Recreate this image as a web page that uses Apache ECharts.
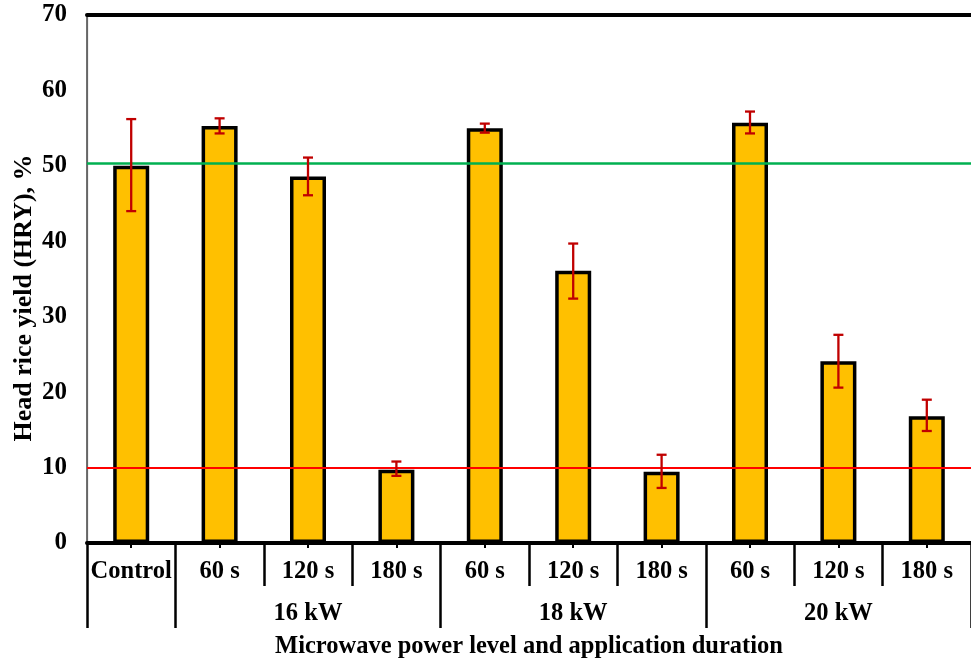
<!DOCTYPE html>
<html>
<head>
<meta charset="utf-8">
<script src="https://cdn.jsdelivr.net/npm/echarts@6/dist/echarts.min.js"></script>
<style>
html,body{margin:0;padding:0;background:#fff;}
#chart{width:971px;height:662px;}
</style>
</head>
<body>
<div id="chart"></div>
<script>
// ---- data ----
const categories = ['Control', '60 s', '120 s', '180 s', '60 s', '120 s', '180 s', '60 s', '120 s', '180 s'];
const groupNames = ['', '16 kW', '18 kW', '20 kW'];
const groupSizes = [1, 3, 3, 3];
const hry = [50.0, 55.3, 48.6, 9.7, 55.0, 36.1, 9.45, 55.7, 24.1, 16.8];
const errLow = [44.0, 54.3, 46.1, 8.9, 54.4, 32.4, 7.3, 54.3, 20.6, 14.85];
const errHigh = [56.2, 56.3, 51.1, 10.8, 55.6, 39.7, 11.7, 57.2, 27.6, 19.0];
const refGreen = 50.3;
const refRed = 10;
const yMin = 0, yMax = 70, yStep = 10;
const xTitle = 'Microwave power level and application duration';
const yTitle = 'Head rice yield (HRY), %';

// group boundaries / centres derived from group sizes
const groupBounds = [0];
groupSizes.forEach(s => groupBounds.push(groupBounds[groupBounds.length - 1] + s));
const groupCentres = groupSizes.map((s, i) => groupBounds[i] + s / 2);
const catBounds = categories.map((c, i) => i).concat([categories.length]);

const FONT = "'Liberation Serif', 'Times New Roman', serif";
const txt = { fontFamily: FONT, fontWeight: 'bold', color: '#000', fontSize: 24.5 };

const errData = categories.map((c, i) => [i, errLow[i], errHigh[i]]);

const chart = echarts.init(document.getElementById('chart'), null, { renderer: 'canvas' });
chart.setOption({
  backgroundColor: '#fff',
  animation: false,
  grid: { left: 87, right: 0, top: 15, bottom: 119, containLabel: false, outerBoundsMode: 'none' },
  xAxis: [
    {
      type: 'category', data: categories, position: 'bottom',
      axisLine: { show: true, lineStyle: { color: '#000', width: 4 } },
      axisTick: { show: true, alignWithLabel: true, length: 5, lineStyle: { color: '#000', width: 2 } },
      axisLabel: Object.assign({ margin: 16, interval: 0 }, txt),
      splitLine: { show: false }
    },
    {
      type: 'value', min: 0, max: categories.length, position: 'bottom',
      axisLine: { show: false },
      axisTick: { show: true, customValues: catBounds, length: 43, lineStyle: { color: '#000', width: 2.5 } },
      axisLabel: { show: false },
      splitLine: { show: false }
    },
    {
      type: 'value', min: 0, max: categories.length, position: 'bottom',
      axisLine: { show: false },
      axisTick: { show: true, customValues: groupBounds, length: 85, lineStyle: { color: '#000', width: 2.5 } },
      axisLabel: Object.assign({
        show: true, customValues: groupCentres, margin: 58,
        formatter: v => { const k = groupCentres.indexOf(v); return k >= 0 ? groupNames[k] : ''; }
      }, txt),
      splitLine: { show: false },
      name: xTitle, nameLocation: 'middle', nameGap: 91,
      nameTextStyle: Object.assign({}, txt, { fontSize: 24.5 })
    },
    {
      type: 'category', data: categories, position: 'top',
      axisLine: { show: true, lineStyle: { color: '#000', width: 4 } },
      axisTick: { show: false }, axisLabel: { show: false }, splitLine: { show: false }
    }
  ],
  yAxis: [
    {
      type: 'value', min: yMin, max: yMax, interval: yStep, position: 'left',
      axisLine: { show: true, lineStyle: { color: '#444', width: 1.5 } },
      axisTick: { show: false },
      axisLabel: Object.assign({ margin: 20 }, txt, { fontSize: 25 }),
      splitLine: { show: false },
      name: yTitle, nameLocation: 'middle', nameGap: 50, nameRotate: 90, nameMoveOverlap: false,
      nameTextStyle: Object.assign({}, txt, { fontSize: 26, padding: [0, 38, 0, 0] })
    },
    {
      type: 'value', min: yMin, max: yMax, interval: yStep, position: 'left', offset: 3,
      axisLine: { show: true, lineStyle: { color: '#666', width: 1.2 } },
      axisTick: { show: false }, axisLabel: { show: false }, splitLine: { show: false }
    }
  ],
  series: [
    {
      type: 'bar', data: hry, xAxisIndex: 0, yAxisIndex: 0,
      barWidth: 36, z: 2,
      itemStyle: { color: '#FFC000', borderColor: '#000', borderWidth: 3.5 },
      markLine: {
        silent: true, symbol: ['none', 'none'], label: { show: false }, z: 5,
        data: [
          { yAxis: refGreen, lineStyle: { color: '#00B050', width: 2.5, type: 'solid' } },
          { yAxis: refRed, lineStyle: { color: '#FF0000', width: 2, type: 'solid' } }
        ]
      }
    },
    {
      type: 'custom', xAxisIndex: 0, yAxisIndex: 0, z: 10,
      data: errData,
      renderItem: function (params, api) {
        const lo = api.coord([api.value(0), api.value(1)]);
        const hi = api.coord([api.value(0), api.value(2)]);
        const hw = 5;
        const st = { stroke: '#C00000', lineWidth: 2.3 };
        return {
          type: 'group',
          children: [
            { type: 'line', shape: { x1: hi[0], y1: hi[1], x2: lo[0], y2: lo[1] }, style: st },
            { type: 'line', shape: { x1: hi[0] - hw, y1: hi[1], x2: hi[0] + hw, y2: hi[1] }, style: st },
            { type: 'line', shape: { x1: lo[0] - hw, y1: lo[1], x2: lo[0] + hw, y2: lo[1] }, style: st }
          ]
        };
      }
    }
  ]
});
</script>
</body>
</html>
